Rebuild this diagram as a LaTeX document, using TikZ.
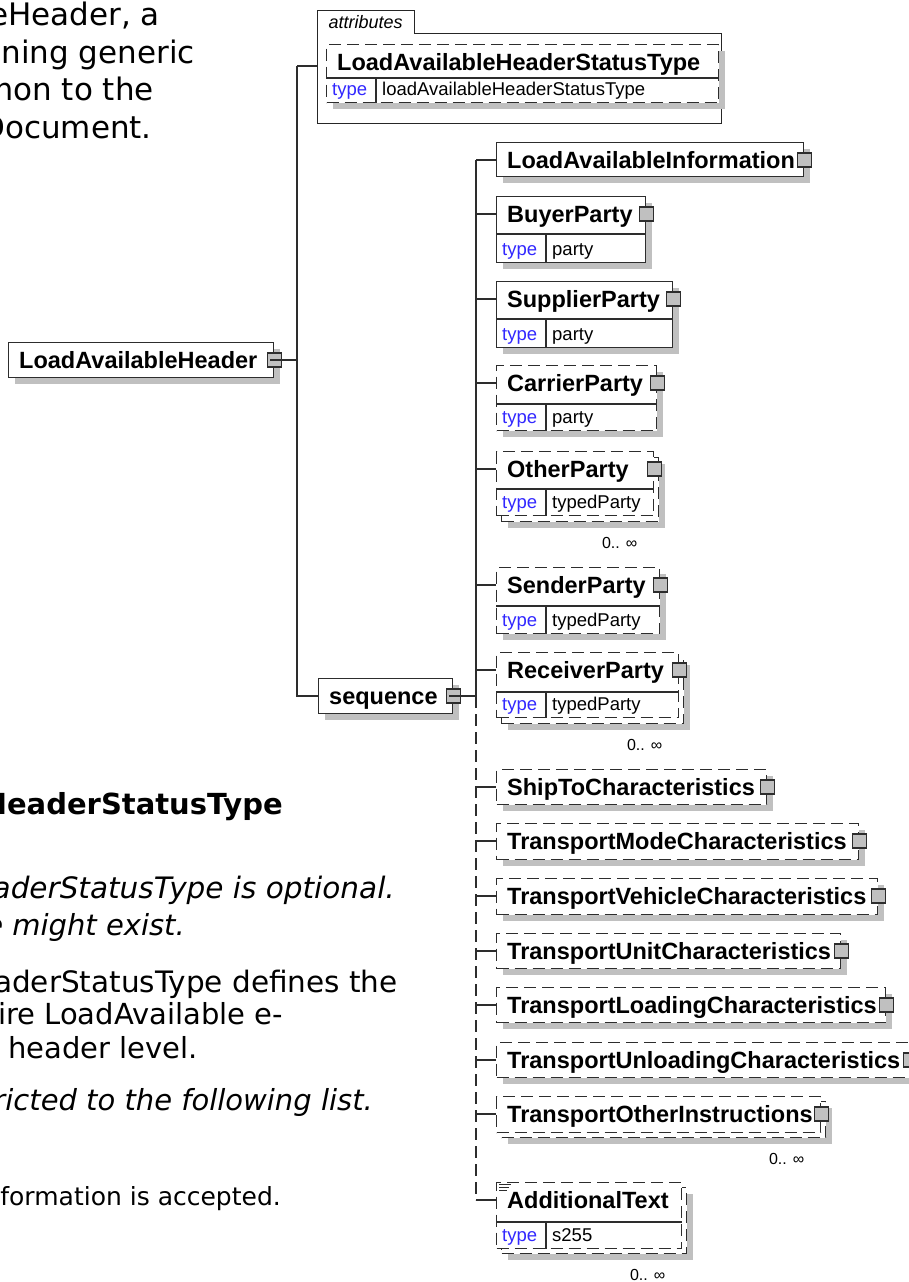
\documentclass[tikz,border=0pt]{standalone}
\usepackage{fontspec}
\setmainfont{Liberation Sans}
\newfontfamily\docfont{DejaVu Sans}
\usetikzlibrary{shadows}

\definecolor{boxline}{RGB}{45,45,45}
\definecolor{boxshade}{RGB}{192,192,192}
\definecolor{typeblue}{RGB}{50,40,255}

\newcommand{\fsz}[1]{\fontsize{#1}{#1}\selectfont}

% element box: [style]{name}{corner}{width}{height}{label}
\newcommand{\xelem}[6][box,shade]{%
  \node[#1, minimum width=#4pt, minimum height=#5pt] (#2) at (#3) {};
  \coordinate (#2-in) at ([yshift=-18pt]#2.north west);
  \node[ename] (#2-t) at ([xshift=11pt,yshift=-8pt]#2-in) {#6};
}
% type row under the name: {name}{name row height}{type}
\newcommand{\xtype}[3]{%
  \draw[tline] ([yshift=-#2pt]#1.north west) -- ([yshift=-#2pt]#1.north east);
  \draw[tline] ([xshift=50pt,yshift=-#2pt]#1.north west) -- ([xshift=50pt]#1.south west);
  \node[tkey] (#1-k) at ([xshift=6pt,yshift=8pt]#1.south west) {type};
  \node[tval] (#1-v) at ([xshift=56pt,yshift=8pt]#1.south west) {#3};
}
% expander square
\newcommand{\xplus}[1]{\node[plus] (#1-x) at (#1-in -| #1.east) {};}
% back copy and count of a repeated element: {name}{corner}{width}{height}
\newcommand{\xmany}[4]{%
  \node[optbox, shade, minimum width=#3pt, minimum height=#4pt] (#1-b) at (#2) {};
  \node[mult] (#1-m) at ([xshift=-22pt,yshift=-21pt]#1-b.south east) {0.. ∞};
}

\tikzset{
  box/.style={draw=boxline, line width=1.4pt, fill=white, anchor=north west, inner sep=0pt},
  optbox/.style={box, dash pattern=on 12pt off 6pt},
  shade/.style={drop shadow={shadow xshift=6pt, shadow yshift=-6pt, fill=boxshade, opacity=1}},
  ename/.style={anchor=base west, inner sep=0pt, font=\bfseries\fsz{23.5}},
  tkey/.style={anchor=base west, inner sep=0pt, text=typeblue, font=\fsz{18.5}},
  tval/.style={anchor=base west, inner sep=0pt, font=\fsz{18.5}},
  tline/.style={draw=boxline, line width=1.4pt},
  plus/.style={draw=boxline, fill=boxshade, line width=1.2pt, minimum size=14pt, inner sep=0pt},
  mult/.style={anchor=east, inner sep=0pt, font=\fsz{16}},
  link/.style={draw=boxline, line width=1.4pt},
  frame/.style={draw=black!85, line width=1pt},
  doc/.style={anchor=base east, inner sep=0pt, font=\docfont\fsz{31}},
}

\begin{document}
\begin{tikzpicture}[x=1pt, y=-1pt]
\useasboundingbox (0,0) rectangle (909,1282);

% page text beside the diagram
\node[doc] (p1) at (160,25) {eHeader, a};
\node[doc] (p2) at (195,63) {ning generic};
\node[doc] (p3) at (154,100) {mon to the};
\node[doc] (p4) at (152,138) {Document.};
\node[doc, font=\docfont\bfseries\fsz{29}] (h1) at (283,814) {HeaderStatusType};
\node[doc, font=\docfont\itshape\fsz{29.5}] (p5) at (395,898) {aderStatusType is optional.};
\node[doc, font=\docfont\itshape\fsz{29}] (p6) at (185,935) {e might exist.};
\node[doc, font=\docfont\fsz{29.5}] (p7) at (398,992) {aderStatusType defines the};
\node[doc, font=\docfont\fsz{29}] (p8) at (283,1024) {ire LoadAvailable e-};
\node[doc, font=\docfont\fsz{29}] (p9) at (198,1058) {header level.};
\node[doc, font=\docfont\itshape\fsz{29}] (p10) at (373,1110) {ricted to the following list.};
\node[doc, font=\docfont\fsz{25}] (p11) at (281,1205) {formation is accepted.};

% attributes
\path (317,33) node[anchor=north west, minimum width=404pt, minimum height=90pt, inner sep=0pt] (attr) {}
      (317,10) node[anchor=north west, minimum width=97pt, minimum height=23pt, inner sep=0pt,
                    font=\itshape\fsz{18}] (attr-tab) {attributes};
\draw[frame] (attr.south west) |- (attr-tab.north east) |- (attr.north east) -- (attr.south east) -- cycle;
\coordinate (attr-in) at ([yshift=-33pt]attr.north west);
\xelem[optbox,shade]{status}{326,44}{392}{58}{LoadAvailableHeaderStatusType}
\xtype{status}{34}{loadAvailableHeaderStatusType}

\xelem{hdr}{8,342}{265}{35}{LoadAvailableHeader}
\xplus{hdr}
\xelem{seq}{318,678}{134}{35}{sequence}
\xplus{seq}

% children of the sequence
\xelem{info}{496,142}{307}{34}{LoadAvailableInformation}
\xplus{info}
\xelem{buyer}{496,196}{149}{66}{BuyerParty}
\xtype{buyer}{38}{party}
\xplus{buyer}
\xelem{supplier}{496,281}{176}{66}{SupplierParty}
\xtype{supplier}{38}{party}
\xplus{supplier}
\xelem[optbox,shade]{carrier}{496,365}{160}{65}{CarrierParty}
\xtype{carrier}{39}{party}
\xplus{carrier}
\xmany{other}{501,457}{157}{64}
\xelem[optbox]{other}{496,451}{157}{64}{OtherParty}
\xtype{other}{38}{typedParty}
\xplus{other}
\xelem[optbox,shade]{sender}{496,567}{163}{66}{SenderParty}
\xtype{sender}{39}{typedParty}
\xplus{sender}
\xmany{receiver}{501,658}{182}{65}
\xelem[optbox]{receiver}{496,652}{182}{65}{ReceiverParty}
\xtype{receiver}{40}{typedParty}
\xplus{receiver}
\xelem[optbox,shade]{shipto}{496,769}{270}{35}{ShipToCharacteristics}
\xplus{shipto}
\xelem[optbox,shade]{mode}{496,823}{362}{36}{TransportModeCharacteristics}
\xplus{mode}
\xelem[optbox,shade]{vehicle}{496,878}{381}{36}{TransportVehicleCharacteristics}
\xplus{vehicle}
\xelem[optbox,shade]{unit}{496,933}{344}{35}{TransportUnitCharacteristics}
\xplus{unit}
\xelem[optbox,shade]{loading}{496,987}{389}{35}{TransportLoadingCharacteristics}
\xplus{loading}
\xelem[optbox,shade]{unloading}{496,1042}{413}{35}{TransportUnloadingCharacteristics}
\xplus{unloading}
\xmany{instr}{501,1101}{324}{36}
\xelem[optbox]{instr}{496,1096}{324}{36}{TransportOtherInstructions}
\xplus{instr}
\xmany{addtext}{501,1187}{185}{66}
\xelem[optbox]{addtext}{496,1182}{185}{66}{AdditionalText}
\xtype{addtext}{40}{s255}
\draw[boxline, line width=0.8pt]
  ([xshift=3pt,yshift=-2pt]addtext.north west) -- ++(12,0)
  ([xshift=3pt,yshift=-5pt]addtext.north west) -- ++(10,0)
  ([xshift=3pt,yshift=-8pt]addtext.north west) -- ++(8,0);

% connectors
\coordinate (root) at ([xshift=15pt]hdr-x.east);
\draw[link] ([xshift=-4pt]hdr-x.center) -- (root);
\draw[link] (root |- attr-in) -- (attr-in);
\draw[link] (root |- attr-in) -- (root |- seq-in) -- (seq-in);

\coordinate (split) at ([xshift=15pt]seq-x.east);
\draw[link] ([xshift=-4pt]seq-x.center) -- (split);
\draw[link] (split |- info-in) -- (split);
\draw[link, dash pattern=on 12pt off 6pt] (split) -- (split |- addtext-in);
\foreach \n in {info,buyer,supplier,carrier,other,sender,receiver,shipto,
                mode,vehicle,unit,loading,unloading,instr,addtext}
  \draw[link] (split |- \n-in) -- (\n-in);

\end{tikzpicture}
\end{document}
